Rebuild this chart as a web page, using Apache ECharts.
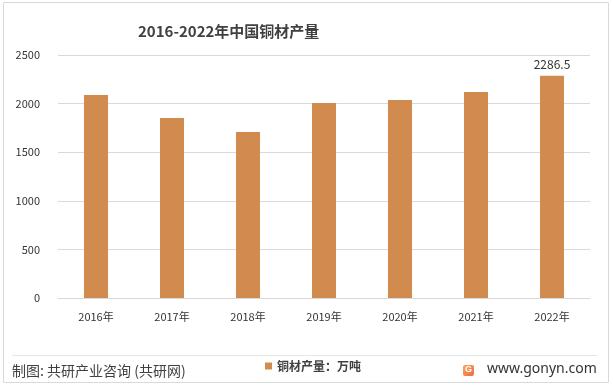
<!DOCTYPE html>
<html><head><meta charset="utf-8">
<script src="https://cdn.jsdelivr.net/npm/echarts@6/dist/echarts.min.js"></script>
<style>html,body{margin:0;padding:0;background:#fff}#c{width:613px;height:389px}</style>
</head><body><div id="c"></div>
<script>
const categories = ['2016年','2017年','2018年','2019年','2020年','2021年','2022年'];
const values = [2088, 1851, 1707, 2005, 2036, 2119, 2286.5];
const yTicks = [0, 500, 1000, 1500, 2000, 2500];
const titleText = '2016-2022年中国铜材产量';
const seriesName = '铜材产量：万吨';
const sourceText = '制图: 共研产业咨询 (共研网)';
const siteText = 'www.gonyn.com';

const font = '"Noto Sans CJK SC", "Noto Sans", sans-serif';
const chart = echarts.init(document.getElementById('c'));
chart.setOption({
  animation: false,
  title: { text: titleText, left: 133, top: 19,
    textStyle: { fontFamily: font, fontSize: 15, fontWeight: 'bold', color: '#404040' } },
  grid: { left: 58, right: 23, top: 55, bottom: 91, containLabel: false },
  legend: { show: true, left: 260, top: 355, itemWidth: 7, itemHeight: 7, itemGap: 4,
    icon: 'rect', textStyle: { fontFamily: font, fontSize: 12, color: '#404040', fontWeight: 'bold' },
    data: [seriesName] },
  xAxis: { type: 'category', data: categories,
    axisLine: { show: true, lineStyle: { color: '#d9d9d9' } }, axisTick: { show: false },
    axisLabel: { fontFamily: font, fontSize: 11, color: '#333', margin: 13 } },
  yAxis: { type: 'value', min: yTicks[0], max: yTicks[yTicks.length-1], interval: 500,
    axisLine: { show: false }, axisTick: { show: false },
    splitLine: { lineStyle: { color: '#d9d9d9' } },
    axisLabel: { fontFamily: font, fontSize: 11, color: '#333', margin: 18, formatter: v => String(v) } },
  series: [{ name: seriesName, type: 'bar', data: values.map((v,i)=> i===values.length-1 ?
      { value: v, label: { show: true, position: 'top', distance: 5, fontFamily: font, fontSize: 12, color: '#333' } } : v),
    barWidth: '31.6%', itemStyle: { color: '#D28B4F' } }],
  graphic: [
    { type: 'rect', shape: { x: 3.5, y: 2.5, width: 605, height: 380 }, style: { fill: null, stroke: '#d9d9d9', lineWidth: 1 }, silent: true },
    { type: 'line', shape: { x1: 12, y1: 355.5, x2: 597, y2: 355.5 }, style: { stroke: '#e6e6e6', lineWidth: 1 } },
    { type: 'text', left: 12, top: 364, style: { text: sourceText, font: '14px ' + font, fill: '#404040' } },
    { type: 'rect', shape: { x: 463, y: 365, width: 11, height: 11, r: 2 },
      style: { fill: new echarts.graphic.LinearGradient(0,0,1,1,[{offset:0,color:'#F7A65A'},{offset:1,color:'#EF6B4A'}]) } },
    { type: 'text', left: 465, top: 365, style: { text: 'G', font: 'bold 9px sans-serif', fill: '#fff' } },
    { type: 'text', left: 487, top: 362, style: { text: siteText, font: '14px "Noto Sans", sans-serif', fill: '#333' } }
  ]
});
</script></body></html>
